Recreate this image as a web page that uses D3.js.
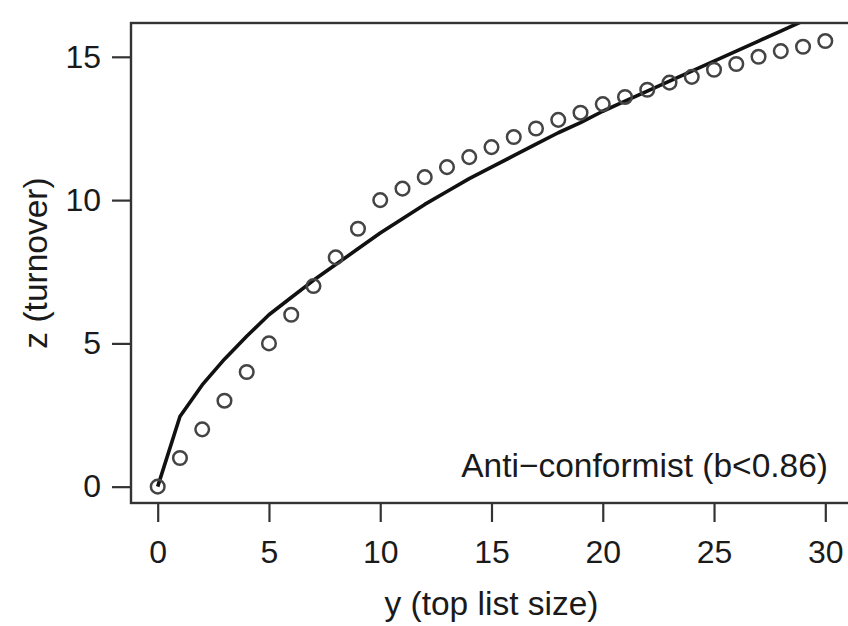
<!DOCTYPE html>
<html>
<head>
<meta charset="utf-8">
<script src="https://cdn.jsdelivr.net/npm/d3@7"></script>
<style>
  body { margin: 0; background: #fff; }
  svg { display: block; }
</style>
</head>
<body>
<div id="chart"></div>
<script>
// top list size y = 0..30
var listSize = [0, 1, 2, 3, 4, 5, 6, 7, 8, 9, 10, 11, 12, 13, 14, 15, 16, 17, 18, 19, 20, 21, 22, 23, 24, 25, 26, 27, 28, 29, 30]

// simulated turnover (open circles)
var turnoverPoints = [0, 1, 2, 3, 4, 5, 6, 7, 8, 9, 10, 10.4, 10.8, 11.15, 11.5, 11.85, 12.2, 12.5, 12.8, 13.05, 13.35, 13.6, 13.85, 14.1, 14.3, 14.55, 14.75, 15.0, 15.2, 15.35, 15.55]

// predicted turnover (solid line)
var turnoverCurve = [0, 2.45, 3.55, 4.45, 5.25, 6.0, 6.6, 7.2, 7.75, 8.3, 8.85, 9.35, 9.85, 10.3, 10.75, 11.15, 11.55, 11.95, 12.35, 12.7, 13.1, 13.45, 13.8, 14.15, 14.5, 14.85, 15.2, 15.55, 15.9, 16.25, 16.6]

var xTicks = [0, 5, 10, 15, 20, 25, 30]
var yTicks = [0, 5, 10, 15]

var width = 848
var height = 626
var margin = { top: 23, right: -4, bottom: 123, left: 131 }
var font = 'Liberation Sans, Arial, Helvetica, sans-serif'

var svg = d3.select('#chart').append('svg')
  .attr('width', width)
  .attr('height', height)

var x = d3.scaleLinear()
  .domain([-1.2, 31.2])
  .range([margin.left, width - margin.right])

var y = d3.scaleLinear()
  .domain([-0.57, 16.18])
  .range([height - margin.bottom, margin.top])

svg.append('clipPath')
  .attr('id', 'plot-clip')
  .append('rect')
  .attr('x', x.range()[0])
  .attr('y', y.range()[1])
  .attr('width', x.range()[1] - x.range()[0])
  .attr('height', y.range()[0] - y.range()[1])

// axes
var xAxis = g => g
  .attr('transform', `translate(0,${y.range()[0]})`)
  .call(d3.axisBottom(x).tickValues(xTicks).tickSize(19).tickPadding(18).tickSizeOuter(0))
  .call(g => g.select('.domain').remove())
  .attr('font-family', font)
  .attr('font-size', 32)
  .attr('color', '#1a1a1a')

var yAxis = g => g
  .attr('transform', `translate(${x.range()[0]},0)`)
  .call(d3.axisLeft(y).tickValues(yTicks).tickSize(19).tickPadding(11).tickSizeOuter(0))
  .call(g => g.select('.domain').remove())
  .attr('font-family', font)
  .attr('font-size', 32)
  .attr('color', '#1a1a1a')

svg.append('g').call(xAxis)
  .selectAll('line').attr('stroke-width', 2.2).attr('stroke', '#333')
svg.append('g').call(yAxis)
  .selectAll('line').attr('stroke-width', 2.2).attr('stroke', '#333')

// data
var line = d3.line()
  .x((d, i) => x(listSize[i]))
  .y(d => y(d))

svg.append('path')
  .datum(turnoverCurve)
  .attr('clip-path', 'url(#plot-clip)')
  .attr('fill', 'none')
  .attr('stroke', '#111')
  .attr('stroke-width', 3.6)
  .attr('stroke-linejoin', 'round')
  .attr('d', line)

svg.append('g')
  .selectAll('circle')
  .data(turnoverPoints)
  .enter()
  .append('circle')
  .attr('cx', (d, i) => x(listSize[i]))
  .attr('cy', d => y(d))
  .attr('r', 6.8)
  .attr('fill', 'none')
  .attr('stroke', '#444')
  .attr('stroke-width', 2.5)

// frame
svg.append('rect')
  .attr('x', x.range()[0])
  .attr('y', y.range()[1])
  .attr('width', x.range()[1] - x.range()[0])
  .attr('height', y.range()[0] - y.range()[1])
  .attr('fill', 'none')
  .attr('stroke', '#333')
  .attr('stroke-width', 2.4)

// labels
svg.append('text')
  .attr('x', (x.range()[0] + x.range()[1]) / 2)
  .attr('y', 615)
  .attr('text-anchor', 'middle')
  .attr('font-family', font)
  .attr('font-size', 33.5)
  .attr('fill', '#1a1a1a')
  .text('y (top list size)')

svg.append('text')
  .attr('transform', `translate(47,${(y.range()[0] + y.range()[1]) / 2}) rotate(-90)`)
  .attr('text-anchor', 'middle')
  .attr('font-family', font)
  .attr('font-size', 33.5)
  .attr('fill', '#1a1a1a')
  .text('z (turnover)')

svg.append('text')
  .attr('x', 828)
  .attr('y', 477)
  .attr('text-anchor', 'end')
  .attr('font-family', font)
  .attr('font-size', 33.5)
  .attr('fill', '#1a1a1a')
  .text('Anti\u2212conformist (b<0.86)')
</script>
</body>
</html>
